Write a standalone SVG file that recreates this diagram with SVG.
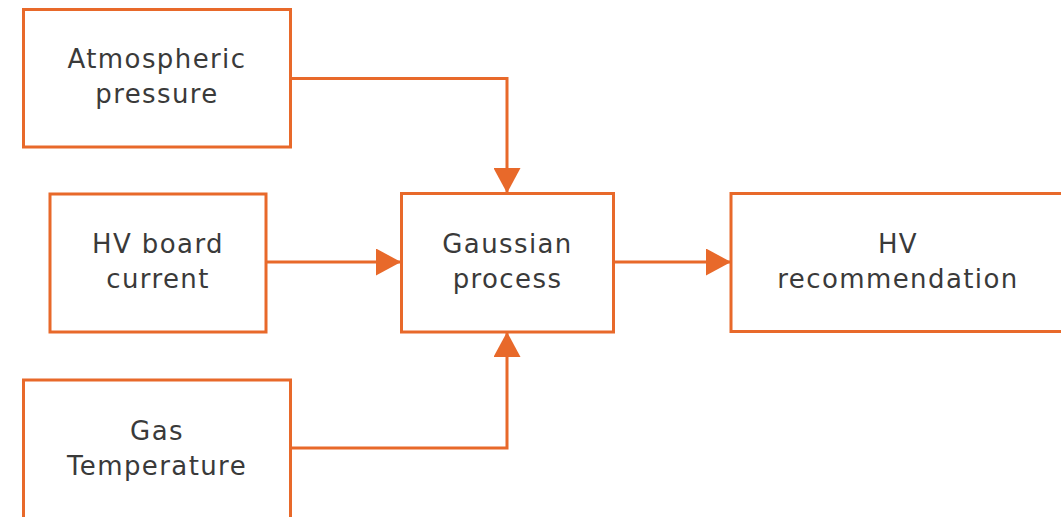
<svg xmlns="http://www.w3.org/2000/svg" width="1061" height="517" viewBox="0 0 1061 517">
  <style>
    .box { fill: #ffffff; stroke: #e8692a; stroke-width: 3; }
    .lbl { font-family: "DejaVu Sans", "Liberation Sans", sans-serif; font-size: 26px; fill: #3a3a3a; text-anchor: middle; letter-spacing: 1.4px; }
    .conn { fill: none; stroke: #e8692a; stroke-width: 3; }
  </style>
  <defs>
    <marker id="arrow" markerUnits="userSpaceOnUse" markerWidth="25" markerHeight="27" refX="25" refY="13.5" orient="auto">
      <path d="M0,0 L25,13.5 L0,27 Z" fill="#e8692a"/>
    </marker>
  </defs>
  <rect width="1061" height="517" fill="#ffffff"/>

  <g id="connectors">
    <path class="conn" d="M290.5,78.5 H507 V193" marker-end="url(#arrow)"/>
    <path class="conn" d="M266,262 H401" marker-end="url(#arrow)"/>
    <path class="conn" d="M613.5,262 H731" marker-end="url(#arrow)"/>
    <path class="conn" d="M290.5,448 H507 V332" marker-end="url(#arrow)"/>
  </g>

  <g id="atmospheric-pressure">
    <rect class="box" x="23.5" y="9.5" width="267" height="137.5"/>
    <text class="lbl" x="157" y="68">Atmospheric</text>
    <text class="lbl" x="157" y="103">pressure</text>
  </g>

  <g id="hv-board-current">
    <rect class="box" x="50" y="194" width="216" height="138"/>
    <text class="lbl" x="158" y="253">HV board</text>
    <text class="lbl" x="158" y="288">current</text>
  </g>

  <g id="gaussian-process">
    <rect class="box" x="401.5" y="193.5" width="212" height="138.5"/>
    <text class="lbl" x="507.5" y="253">Gaussian</text>
    <text class="lbl" x="507.5" y="288">process</text>
  </g>

  <g id="hv-recommendation">
    <rect class="box" x="731" y="193.5" width="335" height="138"/>
    <text class="lbl" x="898" y="253">HV</text>
    <text class="lbl" x="898" y="288">recommendation</text>
  </g>

  <g id="gas-temperature">
    <rect class="box" x="23.5" y="380" width="267" height="142"/>
    <text class="lbl" x="157" y="440">Gas</text>
    <text class="lbl" x="157" y="475">Temperature</text>
  </g>
</svg>
